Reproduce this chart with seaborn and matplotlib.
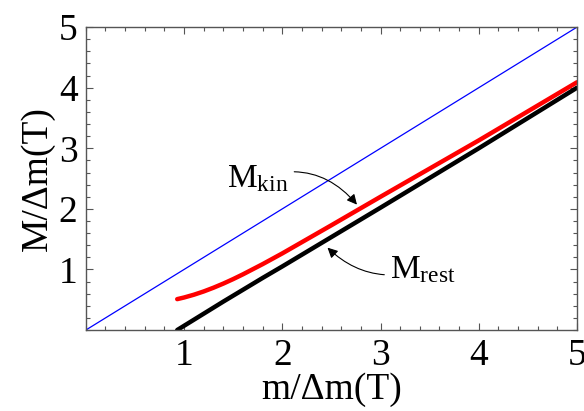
import numpy as np
import pandas as pd
import matplotlib.pyplot as plt
import seaborn as sns
from matplotlib.ticker import MultipleLocator

# values
m_rest_x = [0.93, 1.0, 1.2, 1.4, 1.6, 1.8, 2.0, 2.5, 3.0, 3.5, 4.0, 4.5, 5.0]
m_rest = [0.0, 0.07, 0.27, 0.47, 0.665, 0.86, 1.05, 1.535, 2.02, 2.51, 3.0, 3.5, 4.0]
m_kin_x = [0.93, 1.0, 1.1, 1.2, 1.3, 1.4, 1.5, 1.6, 1.8, 2.0, 2.5, 3.0, 3.5, 4.0, 4.5, 5.0]
m_kin = [0.51, 0.537, 0.583, 0.637, 0.699, 0.767, 0.841, 0.92, 1.088, 1.265,
         1.73, 2.20, 2.665, 3.13, 3.61, 4.09]
diag = [0.0, 5.0]
ticks = [1, 2, 3, 4, 5]

sns.set_style("ticks")
plt.rcParams["font.family"] = ["Liberation Serif", "DejaVu Serif"]
plt.rcParams["mathtext.fontset"] = "custom"
plt.rcParams["mathtext.rm"] = "Liberation Serif"
plt.rcParams["mathtext.it"] = "Liberation Serif:italic"
plt.rcParams["text.color"] = "black"
plt.rcParams["axes.labelcolor"] = "black"
plt.rcParams["xtick.labelcolor"] = "black"
plt.rcParams["ytick.labelcolor"] = "black"

df_rest = pd.DataFrame({"m": m_rest_x, "M": m_rest})
df_kin = pd.DataFrame({"m": m_kin_x, "M": m_kin})
df_diag = pd.DataFrame({"x": diag, "y": diag})

fig = plt.figure(figsize=(5.84, 4.11), dpi=100)
ax = fig.add_axes([0.147, 0.197, 0.841, 0.737])

sns.lineplot(data=df_diag, x="x", y="y", color="#0000ff", lw=0.9, ax=ax)
sns.lineplot(data=df_rest, x="m", y="M", color="black", lw=3.2,
             solid_capstyle="round", ax=ax)
sns.lineplot(data=df_kin, x="m", y="M", color="#ff0000", lw=3.2,
             solid_capstyle="round", ax=ax)

ax.set_xlim(0, 5)
ax.set_ylim(0, 5)
ax.set_xticks(ticks)
ax.set_yticks(ticks)
ax.xaxis.set_minor_locator(MultipleLocator(0.2))
ax.yaxis.set_minor_locator(MultipleLocator(0.2))
ax.tick_params(which="both", direction="in", top=True, right=True,
               color="#555555", width=0.8, labelsize=27, pad=6)
ax.tick_params(which="major", length=5)
ax.tick_params(which="minor", length=3)
for s in ax.spines.values():
    s.set_color("#555555")
    s.set_linewidth(1.0)

ax.set_xlabel("m/\u0394m(T)", fontsize=27, labelpad=0)
ax.set_ylabel("M/\u0394m(T)", fontsize=27, labelpad=3)

ax.annotate(r"$\mathrm{M_{kin}}$", xy=(2.76, 2.07), xytext=(2.06, 2.5),
            fontsize=24, ha="right", va="center",
            arrowprops=dict(arrowstyle="-|>", color="black", lw=0.8,
                            mutation_scale=15,
                            connectionstyle="arc3,rad=-0.35",
                            shrinkA=2, shrinkB=0))
ax.annotate(r"$\mathrm{M_{rest}}$", xy=(2.46, 1.36), xytext=(3.1, 1.0),
            fontsize=24, ha="left", va="center",
            arrowprops=dict(arrowstyle="-|>", color="black", lw=0.8,
                            mutation_scale=15,
                            connectionstyle="arc3,rad=-0.3",
                            shrinkA=2, shrinkB=0))

fig.savefig("out.png", dpi=100)
